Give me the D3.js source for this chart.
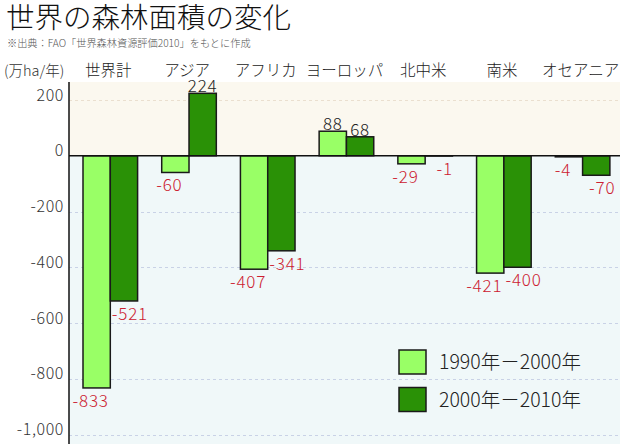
<!DOCTYPE html>
<html><head><meta charset="utf-8">
<script src="https://cdn.jsdelivr.net/npm/d3@7"></script>
<style>
html,body{margin:0;padding:0;background:#fff;}
svg{display:block;font-family:"Noto Sans CJK JP","Noto Sans",sans-serif;font-weight:300;}
</style></head>
<body><svg id="c" width="620" height="444"></svg>
<script>
const categories = ["世界計","アジア","アフリカ","ヨーロッパ","北中米","南米","オセアニア"];
const values1990 = [-833,-60,-407,88,-29,-421,-4];
const values2000 = [-521,224,-341,68,-1,-400,-70];
const seriesNames = ["1990年－2000年","2000年－2010年"];
const seriesColors = ["#99ff66","#2a9106"];
const yTicks = [200,0,-200,-400,-600,-800,-1000];
const title = "世界の森林面積の変化";
const subtitle = "※出典：FAO「世界森林資源評価2010」をもとに作成";
const unitLabel = "(万ha/年)";

const svg = d3.select("#c");
const plotL = 69, plotR = 620, plotT = 82, plotB = 444;

const y = d3.scaleLinear().domain([-1000,200]).range([434.5,100]);
const x0 = d3.scaleBand().domain(categories).range([plotL,plotR]).padding(0);
const x1 = d3.scaleBand().domain([0,1]).range([14,14+54.6]).padding(0);

// backgrounds
svg.append("rect").attr("x",plotL).attr("y",plotT).attr("width",plotR-plotL).attr("height",y(0)-plotT).attr("fill","#fbf8ef");
svg.append("rect").attr("x",plotL).attr("y",y(0)).attr("width",plotR-plotL).attr("height",plotB-y(0)).attr("fill","#f0f8f9");

// gridlines
svg.append("g").selectAll("line").data(yTicks.filter(d=>d!==0)).join("line")
  .attr("x1",plotL).attr("x2",plotR)
  .attr("y1",d=>Math.round(y(d))+0.5).attr("y2",d=>Math.round(y(d))+0.5)
  .attr("stroke",d=>d>0?"#eadfcf":"#c9d2e6").attr("stroke-width",1).attr("stroke-dasharray","3,3");

// axis labels
const yAxis = d3.axisLeft(y).tickValues(yTicks).tickSize(0).tickPadding(4)
  .tickFormat(d=>d3.format(",")(d).replace("−","-"));
const ag = svg.append("g").attr("transform",`translate(${plotL-1},0)`).call(yAxis);
ag.select(".domain").remove();
ag.selectAll("text").attr("font-size",16).attr("fill","#333").attr("dy","0")
  .attr("font-family","Noto Sans CJK JP").attr("font-weight",300).attr("letter-spacing",0.6);

// bars
const series = [values1990, values2000];
const groups = svg.append("g").selectAll("g").data(categories).join("g")
  .attr("transform",d=>`translate(${x0(d)},0)`);
groups.selectAll("rect").data((c,i)=>series.map((s,k)=>({k,v:s[i]}))).join("rect")
  .attr("x",d=>x1(d.k)).attr("width",x1.bandwidth())
  .attr("y",d=>Math.min(y(d.v),y(0))).attr("height",d=>Math.abs(y(d.v)-y(0)))
  .attr("fill",d=>seriesColors[d.k]).attr("stroke","#1a1a1a").attr("stroke-width",1.5);

// value labels
groups.selectAll("text.val").data((c,i)=>series.map((s,k)=>({k,v:s[i]}))).join("text")
  .attr("class","val")
  .attr("x",d=>x1(d.k)+x1.bandwidth()/2 + (d.v<0 ? (d.k===0?-6:6) : 0))
  .attr("y",d=>d.v<0 ? y(d.v)+19 : y(d.v)-1)
  .attr("text-anchor","middle").attr("font-size",17).attr("letter-spacing",0.8)
  .attr("fill",d=>d.v<0?"#cc2030":"#222")
  .text(d=>String(d.v));

// zero line and y axis line
svg.append("line").attr("x1",plotL).attr("x2",plotR).attr("y1",y(0)).attr("y2",y(0)).attr("stroke","#111").attr("stroke-width",1.5);
svg.append("line").attr("x1",plotL).attr("x2",plotL).attr("y1",plotT).attr("y2",plotB).attr("stroke","#111").attr("stroke-width",1.5);

// category labels
svg.append("g").selectAll("text").data(categories).join("text")
  .attr("x",d=>x0(d)+x0.bandwidth()/2).attr("y",76)
  .attr("text-anchor","middle").attr("font-size",15.5).attr("fill","#222").text(d=>d);

// unit label
svg.append("text").attr("x",4).attr("y",76).attr("font-size",14.5).attr("fill","#333").text(unitLabel);

// title
svg.append("text").attr("x",6).attr("y",28).attr("font-size",28.5).attr("fill","#111").text(title);
svg.append("text").attr("x",7).attr("y",47).attr("font-size",10.2).attr("fill","#555").text(subtitle);

// legend
const lg = svg.append("g").selectAll("g").data(seriesNames).join("g")
  .attr("transform",(d,i)=>`translate(399,${350+i*37.5})`);
lg.append("rect").attr("width",27).attr("height",24).attr("fill",(d,i)=>seriesColors[i]).attr("stroke","#1a1a1a").attr("stroke-width",1.5);
lg.append("text").attr("x",40).attr("y",19).attr("font-size",19.5).attr("fill","#222").text(d=>d);
</script></body></html>
